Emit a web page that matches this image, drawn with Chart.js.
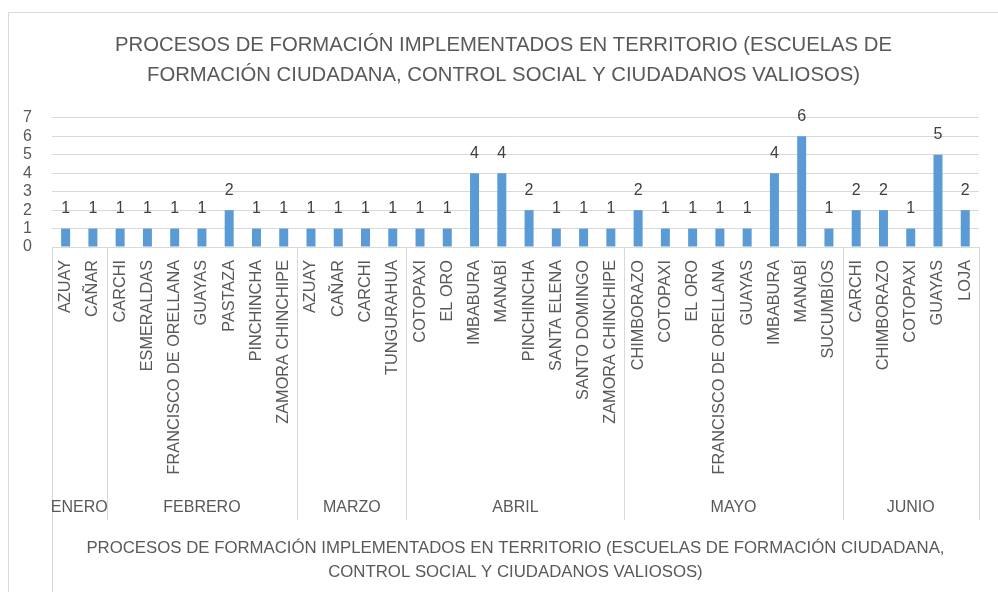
<!DOCTYPE html>
<html lang="es">
<head>
<meta charset="utf-8">
<title>Procesos de formación implementados en territorio</title>
<script src="https://cdn.jsdelivr.net/npm/chart.js@4.4.1/dist/chart.umd.min.js"></script>
<style>
    body { margin: 0; background: #fff; }
    .marco {
        position: absolute; left: 8px; top: 12px; width: 1000px; height: 600px;
        border-left: 1px solid #d9d9d9; border-top: 1px solid #d9d9d9;
    }
    .contenedor { position: relative; width: 998px; height: 592px; }
</style>
</head>
<body>
<div class="marco"></div>
<div class="contenedor"><canvas id="graficoProcesos"></canvas></div>
<script>
// Datos
const provincias = [
    'AZUAY', 'CAÑAR',
    'CARCHI', 'ESMERALDAS', 'FRANCISCO DE ORELLANA', 'GUAYAS', 'PASTAZA', 'PINCHINCHA', 'ZAMORA CHINCHIPE',
    'AZUAY', 'CAÑAR', 'CARCHI', 'TUNGURAHUA',
    'COTOPAXI', 'EL ORO', 'IMBABURA', 'MANABÍ', 'PINCHINCHA', 'SANTA ELENA', 'SANTO DOMINGO', 'ZAMORA CHINCHIPE',
    'CHIMBORAZO', 'COTOPAXI', 'EL ORO', 'FRANCISCO DE ORELLANA', 'GUAYAS', 'IMBABURA', 'MANABÍ', 'SUCUMBÍOS',
    'CARCHI', 'CHIMBORAZO', 'COTOPAXI', 'GUAYAS', 'LOJA'
];
const valores = [
    1, 1,
    1, 1, 1, 1, 2, 1, 1,
    1, 1, 1, 1,
    1, 1, 4, 4, 2, 1, 1, 1,
    2, 1, 1, 1, 1, 4, 6, 1,
    2, 2, 1, 5, 2
];
const meses = ['ENERO', 'FEBRERO', 'MARZO', 'ABRIL', 'MAYO', 'JUNIO'];
const provinciasPorMes = [2, 7, 4, 8, 8, 5];
const ticksY = [0, 1, 2, 3, 4, 5, 6, 7];

const tituloGrafico = [
    'PROCESOS DE FORMACIÓN IMPLEMENTADOS EN TERRITORIO (ESCUELAS DE',
    'FORMACIÓN CIUDADANA, CONTROL SOCIAL Y CIUDADANOS VALIOSOS)'
];
const tituloEjeX = [
    'PROCESOS DE FORMACIÓN IMPLEMENTADOS EN TERRITORIO (ESCUELAS DE FORMACIÓN CIUDADANA,',
    'CONTROL SOCIAL Y CIUDADANOS VALIOSOS)'
];

const FUENTE = '"Liberation Sans", Arial, sans-serif';
const GRIS_TEXTO = '#595959';
const GRIS_LINEA = '#d9d9d9';

// Etiquetas de valor sobre cada barra
const etiquetasValor = {
    id: 'etiquetasValor',
    afterDatasetsDraw(chart) {
        const { ctx } = chart;
        const meta = chart.getDatasetMeta(0);
        ctx.save();
        ctx.fillStyle = '#404040';
        ctx.font = '16px ' + FUENTE;
        ctx.textAlign = 'center';
        ctx.textBaseline = 'middle';
        meta.data.forEach((barra, i) => {
            ctx.fillText(String(valores[i]), barra.x, barra.y - 20);
        });
        ctx.restore();
    }
};

// Segundo nivel del eje X: meses y separadores
const gruposMeses = {
    id: 'gruposMeses',
    afterDraw(chart) {
        const { ctx, chartArea, scales: { x } } = chart;
        const medio = (x.getPixelForValue(1) - x.getPixelForValue(0)) / 2;
        const base = chartArea.bottom;
        ctx.save();
        ctx.strokeStyle = GRIS_LINEA;
        ctx.lineWidth = 1;
        ctx.fillStyle = GRIS_TEXTO;
        ctx.font = '16px ' + FUENTE;
        ctx.textAlign = 'center';
        ctx.textBaseline = 'middle';

        let inicio = 0;
        meses.forEach((mes, i) => {
            const fin = inicio + provinciasPorMes[i] - 1;
            const izq = x.getPixelForValue(inicio) - medio;
            const der = x.getPixelForValue(fin) + medio;
            const xi = Math.round(izq) + 0.5;
            ctx.beginPath();
            ctx.moveTo(xi, base);
            ctx.lineTo(xi, i === 0 ? chart.height : base + 273);
            ctx.stroke();
            if (i === meses.length - 1) {
                const xd = Math.round(der) + 0.5;
                ctx.beginPath();
                ctx.moveTo(xd, base);
                ctx.lineTo(xd, base + 273);
                ctx.stroke();
            }
            ctx.fillText(mes, (izq + der) / 2, base + 261);
            inicio = fin + 1;
        });
        ctx.restore();
    }
};

const ctxProcesos = document.getElementById('graficoProcesos');
new Chart(ctxProcesos, {
    type: 'bar',
    data: {
        labels: provincias,
        datasets: [{
            data: valores,
            backgroundColor: '#5B9BD5',
            borderWidth: 0,
            barPercentage: 0.33,
            categoryPercentage: 1
        }]
    },
    options: {
        responsive: true,
        maintainAspectRatio: false,
        animation: false,
        layout: { padding: { top: 10, left: 22, right: 13, bottom: 8 } },
        plugins: {
            legend: { display: false },
            tooltip: { enabled: false },
            title: {
                display: true,
                text: tituloGrafico,
                color: GRIS_TEXTO,
                font: { family: FUENTE, size: 20.3, weight: 'normal', lineHeight: 1.5 },
                padding: { top: 20, bottom: 27 }
            }
        },
        scales: {
            x: {
                grid: { display: false, drawTicks: false },
                border: { display: false },
                ticks: {
                    autoSkip: false,
                    minRotation: 90,
                    maxRotation: 90,
                    padding: 13,
                    color: GRIS_TEXTO,
                    font: { family: FUENTE, size: 16.3 }
                },
                title: {
                    display: true,
                    text: tituloEjeX,
                    color: GRIS_TEXTO,
                    font: { family: FUENTE, size: 16.8, lineHeight: 1.43 },
                    padding: { top: 0, bottom: 0 }
                },
                afterFit(escala) { escala.height = 337; }
            },
            y: {
                min: ticksY[0],
                max: ticksY[ticksY.length - 1],
                grid: { color: GRIS_LINEA, drawTicks: false },
                border: { display: false },
                ticks: {
                    autoSkip: false,
                    stepSize: 1,
                    padding: 20,
                    color: GRIS_TEXTO,
                    font: { family: FUENTE, size: 16, lineHeight: 1 }
                },
                afterBuildTicks(escala) { escala.ticks = ticksY.map(v => ({ value: v })); },
                afterFit(escala) { escala.width = 30; }
            }
        }
    },
    plugins: [etiquetasValor, gruposMeses]
});
</script>
</body>
</html>
